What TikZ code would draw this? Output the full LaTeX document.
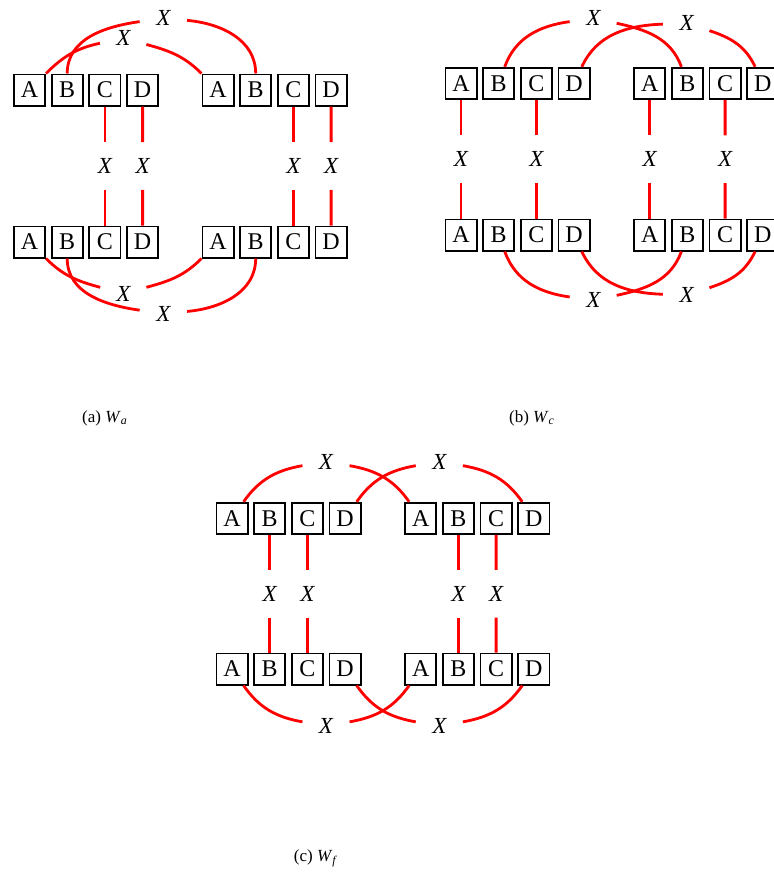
\documentclass[tikz,border=0pt]{standalone}
\usepackage{fontspec}
\setmainfont{Liberation Serif}
\tikzset{
  cell/.style={draw=black,line width=.9pt,minimum size=15.6pt,inner sep=0pt,
    font=\fontsize{12}{14}\selectfont},
  xlab/.style={circle,minimum size=23.5pt,inner sep=0pt,
    font=\fontsize{11.5}{13}\selectfont\itshape},
  wire/.style={red,line width=1.4pt},
  subcap/.style={font=\fontsize{8.5}{10}\selectfont}
}
\begin{document}
\begin{tikzpicture}[x=.5pt,y=.5pt]
  \clip (0,0) rectangle (774,-878);
  \foreach \g/\x/\y in {aUL/29.5/90,aUR/218/90,aLL/29.5/242,aLR/218/242,
      bUL/461/83.3,bUR/649.7/83.3,bLL/461/235,bLR/649.7/235,
      cUL/232/518.3,cUR/420.7/518.3,cLL/232/669,cLR/420.7/669}{
    \foreach \l [count=\i from 0] in {A,B,C,D}
      \node[cell] (\g\l) at ({\x+37.7*\i},-\y) {\l};
  }

  \node[xlab] (aXC1) at (104.9,-166) {X};
  \node[xlab] (aXD1) at (142.6,-166) {X};
  \node[xlab] (aXC2) at (293.4,-166) {X};
  \node[xlab] (aXD2) at (331.1,-166) {X};
  \node[xlab] (bXA1) at (461,-159.2) {X};
  \node[xlab] (bXC1) at (536.4,-159.2) {X};
  \node[xlab] (bXA2) at (649.7,-159.2) {X};
  \node[xlab] (bXC2) at (725.1,-159.2) {X};
  \node[xlab] (cXB1) at (269.7,-593.7) {X};
  \node[xlab] (cXC1) at (307.4,-593.7) {X};
  \node[xlab] (cXB2) at (458.4,-593.7) {X};
  \node[xlab] (cXC2) at (496.1,-593.7) {X};
  \foreach \t/\m/\b in {aULC/aXC1/aLLC,aULD/aXD1/aLLD,aURC/aXC2/aLRC,aURD/aXD2/aLRD,
      bULA/bXA1/bLLA,bULC/bXC1/bLLC,bURA/bXA2/bLRA,bURC/bXC2/bLRC,
      cULB/cXB1/cLLB,cULC/cXC1/cLLC,cURB/cXB2/cLRB,cURC/cXC2/cLRC}
    \draw[wire] (\t) -- (\m) -- (\b);

  \node[xlab] (aXt1) at (123.3,-38.3) {X};
  \node[xlab] (aXt2) at (163.3,-18.3) {X};
  \node[xlab] (aXb1) at (123.3,-293.5) {X};
  \node[xlab] (aXb2) at (163.3,-313.5) {X};
  \draw[wire] (aULA) to[out=45,in=192] (aXt1) to[out=-15,in=135] (aURA);
  \draw[wire] (aULB) to[out=90,in=188] (aXt2) to[out=-5,in=90] (aURB);
  \draw[wire] (aLLA) to[out=-45,in=165] (aXb1) to[out=15,in=-135] (aLRA);
  \draw[wire] (aLLB) to[out=-90,in=172] (aXb2) to[out=5,in=-90] (aLRB);

  \node[xlab] (bXt1) at (593.3,-18.3) {X};
  \node[xlab] (bXt2) at (686.7,-23.3) {X};
  \node[xlab] (bXb1) at (593.3,-300.3) {X};
  \node[xlab] (bXb2) at (686.7,-295.1) {X};
  \draw[wire] (bULB) to[out=70,in=188] (bXt1) to[out=-12,in=110] (bURB);
  \draw[wire] (bULD) to[out=65,in=182] (bXt2) to[out=-18,in=115] (bURD);
  \draw[wire] (bLLB) to[out=-70,in=172] (bXb1) to[out=12,in=-110] (bLRB);
  \draw[wire] (bLLD) to[out=-65,in=178] (bXb2) to[out=18,in=-115] (bLRD);

  \node[xlab] (cXt1) at (326,-461.5) {X};
  \node[xlab] (cXt2) at (439.3,-461.5) {X};
  \node[xlab] (cXb1) at (326,-726) {X};
  \node[xlab] (cXb2) at (439.3,-726) {X};
  \draw[wire] (cULA) to[out=55,in=190] (cXt1) to[out=-10,in=125] (cURA);
  \draw[wire] (cULD) to[out=55,in=190] (cXt2) to[out=-10,in=125] (cURD);
  \draw[wire] (cLLA) to[out=-55,in=170] (cXb1) to[out=10,in=-125] (cLRA);
  \draw[wire] (cLLD) to[out=-55,in=170] (cXb2) to[out=10,in=-125] (cLRD);

  \node[subcap] (capA) at (105,-418) {(a) \textit{W}\textsubscript{\textit{a}}};
  \node[subcap] (capB) at (532,-418) {(b) \textit{W}\textsubscript{\textit{c}}};
  \node[subcap] (capC) at (316,-858) {(c) \textit{W}\textsubscript{\textit{f}}};
\end{tikzpicture}
\end{document}
